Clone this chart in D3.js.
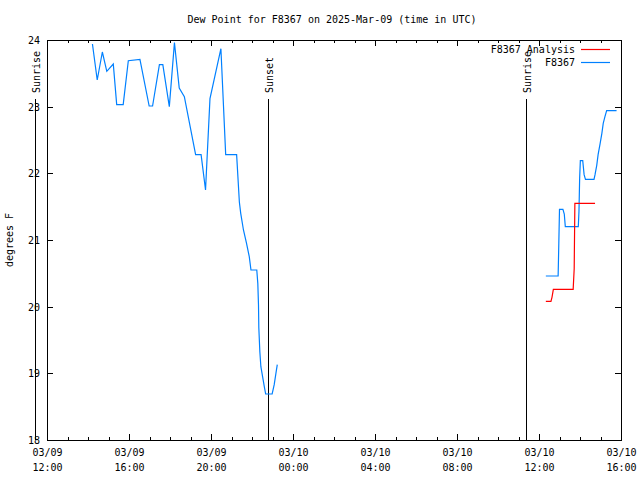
<!DOCTYPE html>
<html>
<head>
<meta charset="utf-8">
<script src="https://cdn.jsdelivr.net/npm/d3@7"></script>
<style>
  body { margin: 0; background: #fff; }
  svg { display: block; }
  text { font-family: "DejaVu Sans Mono", "Liberation Mono", monospace; font-size: 10px; fill: #000; }
</style>
</head>
<body>
<svg id="chart" width="640" height="480"></svg>
<script>
// ---- data ----
const titleText = "Dew Point for F8367 on 2025-Mar-09 (time in UTC)";
const yLabel = "degrees F";
const seriesNames = ["F8367 Analysis", "F8367"];
const seriesColors = ["#ff0000", "#0080ff"];

// F8367 observations, first segment (2025-03-09)
const obsTimes1 = ["2025-03-09T14:13","2025-03-09T14:27","2025-03-09T14:42","2025-03-09T14:55","2025-03-09T15:14",
  "2025-03-09T15:24","2025-03-09T15:43","2025-03-09T15:58","2025-03-09T16:32","2025-03-09T16:59",
  "2025-03-09T17:09","2025-03-09T17:29","2025-03-09T17:39","2025-03-09T17:58","2025-03-09T18:13",
  "2025-03-09T18:27","2025-03-09T18:42","2025-03-09T19:15","2025-03-09T19:31","2025-03-09T19:44",
  "2025-03-09T19:57","2025-03-09T20:29","2025-03-09T20:43","2025-03-09T21:15","2025-03-09T21:23",
  "2025-03-09T21:27","2025-03-09T21:35","2025-03-09T21:44","2025-03-09T21:52","2025-03-09T21:57",
  "2025-03-09T22:14","2025-03-09T22:17","2025-03-09T22:19","2025-03-09T22:20","2025-03-09T22:23",
  "2025-03-09T22:26","2025-03-09T22:31","2025-03-09T22:36","2025-03-09T22:40","2025-03-09T22:59",
  "2025-03-09T23:05","2025-03-09T23:10","2025-03-09T23:14"];
const obsValues1 = [23.94,23.40,23.82,23.53,23.64,
  23.03,23.03,23.69,23.71,23.01,
  23.01,23.63,23.63,23.00,23.96,
  23.28,23.15,22.28,22.28,21.75,
  23.12,23.87,22.28,22.28,21.57,
  21.40,21.15,20.95,20.75,20.55,
  20.55,20.35,20.03,19.68,19.32,
  19.10,18.95,18.80,18.69,18.69,
  18.83,19.00,19.13];

// F8367 observations, second segment (2025-03-10)
const obsTimes2 = ["2025-03-10T12:20","2025-03-10T12:56","2025-03-10T12:58","2025-03-10T13:00","2025-03-10T13:10",
  "2025-03-10T13:14","2025-03-10T13:17","2025-03-10T13:55","2025-03-10T13:57","2025-03-10T13:59",
  "2025-03-10T14:01","2025-03-10T14:08","2025-03-10T14:12","2025-03-10T14:16","2025-03-10T14:41",
  "2025-03-10T14:44","2025-03-10T14:49","2025-03-10T14:53","2025-03-10T14:59","2025-03-10T15:04",
  "2025-03-10T15:08","2025-03-10T15:13","2025-03-10T15:18","2025-03-10T15:47"];
const obsValues2 = [20.46,20.46,20.95,21.46,21.46,
  21.39,21.20,21.20,21.43,21.93,
  22.19,22.19,21.98,21.91,21.91,
  21.98,22.12,22.28,22.45,22.60,
  22.75,22.85,22.94,22.94];

// F8367 Analysis
const anaTimes = ["2025-03-10T12:20","2025-03-10T12:35","2025-03-10T12:38","2025-03-10T12:42","2025-03-10T13:40",
  "2025-03-10T13:43","2025-03-10T13:45","2025-03-10T14:44"];
const anaValues = [20.08,20.08,20.14,20.26,20.26,20.57,21.55,21.55];

// Sun events
const sunTimes = ["2025-03-09T11:25","2025-03-09T22:48","2025-03-10T11:22"];
const sunLabels = ["Sunrise","Sunset","Sunrise"];

// Axes
const xDomain = ["2025-03-09T12:00","2025-03-10T16:00"];
const xTickTimes = ["2025-03-09T12:00","2025-03-09T16:00","2025-03-09T20:00","2025-03-10T00:00",
  "2025-03-10T04:00","2025-03-10T08:00","2025-03-10T12:00","2025-03-10T16:00"];
const xTickDates = ["03/09","03/09","03/09","03/10","03/10","03/10","03/10","03/10"];
const xTickHours = ["12:00","16:00","20:00","00:00","04:00","08:00","12:00","16:00"];
const yDomain = [18, 24];
const yTicks = [18, 19, 20, 21, 22, 23, 24];

// ---- drawing ----
(function() {
const parseT = s => new Date(s + ":00Z");
const pL = 47, pR = 621, pT = 40, pB = 440;

const svg = d3.select("#chart");
const x = d3.scaleUtc().domain(xDomain.map(parseT)).range([pL, pR]);
const y = d3.scaleLinear().domain(yDomain).range([pB, pT]);

// title
svg.append("text").attr("x", 332).attr("y", 23).attr("text-anchor", "middle").text(titleText);
// y label
svg.append("text").attr("transform", "translate(13,240) rotate(-90)")
  .attr("text-anchor", "middle").text(yLabel);

// axes
const majorX = xTickTimes.map(parseT);
const minorX = d3.utcHour.every(1).range(parseT(xDomain[0]), d3.utcHour.offset(parseT(xDomain[1]), 1));

const gxMinorB = svg.append("g").attr("transform", `translate(0,${pB})`)
  .call(d3.axisBottom(x).tickValues(minorX).tickSize(-3).tickFormat(""));
const gxMinorT = svg.append("g").attr("transform", `translate(0,${pT})`)
  .call(d3.axisTop(x).tickValues(minorX).tickSize(-3).tickFormat(""));
const gxB = svg.append("g").attr("transform", `translate(0,${pB})`)
  .call(d3.axisBottom(x).tickValues(majorX).tickSize(-6).tickPadding(0).tickFormat(""));
const gxT = svg.append("g").attr("transform", `translate(0,${pT})`)
  .call(d3.axisTop(x).tickValues(majorX).tickSize(-6).tickFormat(""));
const gyL = svg.append("g").attr("transform", `translate(${pL},0)`)
  .call(d3.axisLeft(y).tickValues(yTicks).tickSize(-6).tickPadding(7).tickFormat(d3.format("d")));
const gyR = svg.append("g").attr("transform", `translate(${pR},0)`)
  .call(d3.axisRight(y).tickValues(yTicks).tickSize(-6).tickFormat(""));

[gxMinorB, gxMinorT, gxB, gxT, gyL, gyR].forEach(g => {
  g.selectAll(".domain").remove();
  g.selectAll("line").attr("stroke", "#000").attr("shape-rendering", "crispEdges");
  g.attr("font-family", null).attr("font-size", null);
  g.selectAll("text").attr("fill", "#000");
});
gyL.selectAll("text").attr("dy", "0.35em");

// two-line x tick labels
gxB.selectAll(".tick").each(function(d, i) {
  const t = d3.select(this).select("text").attr("y", 0).attr("dy", null).text(null);
  t.append("tspan").attr("x", 0).attr("y", 16).text(xTickDates[i]);
  t.append("tspan").attr("x", 0).attr("y", 31).text(xTickHours[i]);
});

// frame
svg.append("rect").attr("x", pL + 0.5).attr("y", pT + 0.5)
  .attr("width", pR - pL).attr("height", pB - pT)
  .attr("fill", "none").attr("stroke", "#000").attr("shape-rendering", "crispEdges");

// sun lines and labels
sunTimes.forEach((s, i) => {
  const px = Math.round(x(parseT(s))) + 0.5;
  svg.append("line").attr("x1", px).attr("x2", px).attr("y1", 99).attr("y2", pB)
    .attr("stroke", "#000").attr("shape-rendering", "crispEdges");
  svg.append("text").attr("transform", `translate(${px + 4},93) rotate(-90)`)
    .attr("text-anchor", "start").text(sunLabels[i]);
});

// series lines
const line = d3.line().x(d => x(d[0])).y(d => y(d[1]));
const mk = (ts, vs) => ts.map((t, i) => [parseT(t), vs[i]]);

svg.append("path").datum(mk(obsTimes1, obsValues1)).attr("d", line)
  .attr("fill", "none").attr("stroke", seriesColors[1]).attr("stroke-width", 1.2);
svg.append("path").datum(mk(obsTimes2, obsValues2)).attr("d", line)
  .attr("fill", "none").attr("stroke", seriesColors[1]).attr("stroke-width", 1.2);
svg.append("path").datum(mk(anaTimes, anaValues)).attr("d", line)
  .attr("fill", "none").attr("stroke", seriesColors[0]).attr("stroke-width", 1.2);

// legend
seriesNames.forEach((n, i) => {
  const ly = 49 + i * 13;
  svg.append("text").attr("x", 575).attr("y", ly + 4).attr("text-anchor", "end").text(n);
  svg.append("line").attr("x1", 581).attr("x2", 610).attr("y1", ly + 0.5).attr("y2", ly + 0.5)
    .attr("stroke", seriesColors[i]).attr("stroke-width", 1.2);
});
})();
</script>
</body>
</html>
